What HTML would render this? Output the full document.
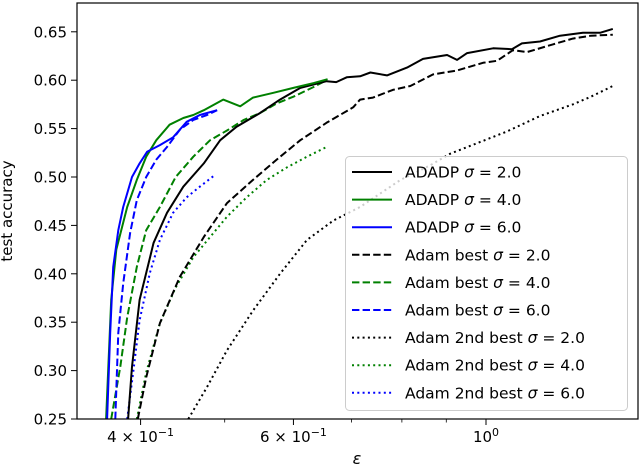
<!DOCTYPE html>
<html><head><meta charset="utf-8"><style>
html,body{margin:0;padding:0;background:#fff;}
svg{display:block;font-family:"DejaVu Sans","Liberation Sans",sans-serif;}
</style></head><body>
<svg id="chart" width="640" height="470" viewBox="0 0 640 470">
<defs><clipPath id="plotclip"><rect x="77" y="3" width="561" height="416"/></clipPath></defs>
<g id="grid"></g>
<g id="series" clip-path="url(#plotclip)"></g>
<rect x="77" y="3" width="561" height="416" fill="none" stroke="#000" stroke-width="1.2"/>
<g id="xaxis"></g><g id="yaxis"></g>
<text x="12" y="211" transform="rotate(-90 12 211)" text-anchor="middle" font-size="15">test accuracy</text>
<text x="357" y="464" text-anchor="middle" font-size="16" font-style="italic">ε</text>
<g id="legend"></g>
</svg>
<script>
const names = ["ADADP σ = 2.0","ADADP σ = 4.0","ADADP σ = 6.0","Adam best σ = 2.0","Adam best σ = 4.0","Adam best σ = 6.0","Adam 2nd best σ = 2.0","Adam 2nd best σ = 4.0","Adam 2nd best σ = 6.0"];
const labelPre = ["ADADP ","ADADP ","ADADP ","Adam best ","Adam best ","Adam best ","Adam 2nd best ","Adam 2nd best ","Adam 2nd best "];
const sigmas = ["2.0","4.0","6.0","2.0","4.0","6.0","2.0","4.0","6.0"];
const eps0 = [0.387,0.391,0.399,0.414,0.429,0.448,0.473,0.494,0.516,0.549,0.579,0.611,0.655,0.672,0.691,0.716,0.736,0.769,0.811,0.846,0.902,0.926,0.951,1.019,1.071,1.100,1.154,1.217,1.293,1.353,1.400];
const acc0 = [0.25,0.304,0.373,0.432,0.463,0.490,0.514,0.538,0.552,0.566,0.580,0.592,0.599,0.598,0.603,0.604,0.608,0.605,0.613,0.622,0.626,0.621,0.628,0.633,0.632,0.638,0.640,0.646,0.649,0.649,0.653];
const eps1 = [0.365,0.370,0.375,0.386,0.396,0.406,0.417,0.432,0.448,0.460,0.473,0.498,0.521,0.539,0.569,0.600,0.633,0.657];
const acc1 = [0.25,0.373,0.425,0.469,0.497,0.521,0.538,0.554,0.561,0.564,0.569,0.580,0.573,0.582,0.587,0.592,0.597,0.601];
const eps2 = [0.366,0.369,0.372,0.377,0.382,0.391,0.399,0.407,0.421,0.436,0.452,0.468,0.490];
const acc2 = [0.25,0.339,0.407,0.445,0.469,0.500,0.514,0.526,0.533,0.541,0.557,0.564,0.569];
const eps3 = [0.397,0.406,0.421,0.444,0.473,0.503,0.539,0.574,0.611,0.655,0.703,0.716,0.741,0.781,0.818,0.869,0.926,0.992,1.030,1.074,1.115,1.194,1.259,1.321,1.400];
const acc3 = [0.25,0.293,0.349,0.397,0.438,0.473,0.497,0.518,0.538,0.556,0.572,0.580,0.582,0.590,0.594,0.606,0.610,0.618,0.620,0.631,0.629,0.637,0.643,0.646,0.647];
const eps4 = [0.370,0.379,0.386,0.396,0.406,0.421,0.439,0.460,0.481,0.503,0.526,0.549,0.574,0.600,0.633,0.655];
const acc4 = [0.25,0.304,0.355,0.407,0.445,0.469,0.500,0.521,0.538,0.548,0.559,0.566,0.576,0.583,0.593,0.600];
const eps5 = [0.374,0.377,0.382,0.389,0.396,0.406,0.417,0.429,0.444,0.460,0.477,0.490];
const acc5 = [0.25,0.339,0.390,0.442,0.476,0.500,0.518,0.531,0.549,0.559,0.564,0.569];
const eps6 = [0.454,0.477,0.503,0.539,0.579,0.622,0.667,0.716,0.797,0.862,0.909,1.057,1.154,1.259,1.321,1.400];
const acc6 = [0.25,0.283,0.321,0.362,0.400,0.435,0.455,0.469,0.497,0.512,0.524,0.547,0.563,0.575,0.583,0.594];
const eps7 = [0.396,0.406,0.421,0.439,0.460,0.481,0.503,0.530,0.559,0.590,0.622,0.655];
const acc7 = [0.25,0.298,0.349,0.386,0.417,0.438,0.459,0.479,0.497,0.510,0.521,0.531];
const eps8 = [0.386,0.393,0.399,0.410,0.421,0.436,0.452,0.468,0.487];
const acc8 = [0.25,0.304,0.352,0.401,0.435,0.463,0.479,0.490,0.502];
const yTicks = [0.25,0.30,0.35,0.40,0.45,0.50,0.55,0.60,0.65];
const xMajor = [0.4,0.6,1.0];
const xMajorLabels = ["4 × 10","6 × 10","10"];
const xMajorExp = ["−1","−1","0"];
const xMinor = [0.5,0.7,0.8,0.9];

const X = v => 486 + 868*Math.log10(v);
const Y = v => 419 - (v-0.25)*968;
const NS = "http://www.w3.org/2000/svg";
function mk(tag, attrs, parent){const e=document.createElementNS(NS,tag);for(const k in attrs)e.setAttribute(k,attrs[k]);parent.appendChild(e);return e;}

const xa=document.getElementById('xaxis'), ya=document.getElementById('yaxis');
xMajor.forEach((v,i)=>{
  const t=mk('line',{x1:X(v),x2:X(v),y1:419,y2:425,stroke:'#000','stroke-width':1},xa);
  
  
  const tx=mk('text',{x:X(v),y:442,'text-anchor':'middle','font-size':15},xa);
  
  
  tx.textContent=xMajorLabels[i];
  const sp=document.createElementNS(NS,'tspan');sp.setAttribute('dy','-6');sp.setAttribute('font-size','11');sp.textContent=xMajorExp[i];tx.appendChild(sp);
});
xMinor.forEach(v=>{
  const t=mk('line',{x1:X(v),x2:X(v),y1:419,y2:422.5,stroke:'#000','stroke-width':0.8},xa);
  
  
});
yTicks.forEach(v=>{
  const t=mk('line',{x1:71,x2:77,y1:Y(v),y2:Y(v),stroke:'#000','stroke-width':1},ya);
  
  
  const tx=mk('text',{x:67,y:Y(v)+5.5,'text-anchor':'end','font-size':15},ya);
  
  
  tx.textContent=v.toFixed(2);
});

const allEps=[eps0,eps1,eps2,eps3,eps4,eps5,eps6,eps7,eps8];
const allAcc=[acc0,acc1,acc2,acc3,acc4,acc5,acc6,acc7,acc8];
const colors=['#000','#008000','#0000ff'];
const dashes=['none','7.4,3.2','2,3.3'];
const sg=document.getElementById('series');
const order=[6,7,8,3,4,5,0,1,2];
order.forEach(i=>{
  const d=allEps[i].map((e,j)=>(j?'L':'M')+X(e).toFixed(1)+','+Y(allAcc[i][j]).toFixed(1)).join('');
  const p=mk('path',{d:d,fill:'none',stroke:colors[i%3],'stroke-width':2,'stroke-dasharray':dashes[Math.floor(i/3)],'stroke-linejoin':'round'},sg);
  
  
});

const lg=document.getElementById('legend');
const box=mk('rect',{x:345.5,y:156.5,width:282,height:254,rx:4,fill:'#fff','fill-opacity':0.8,stroke:'#ccc','stroke-width':1},lg);


names.forEach((n,i)=>{
  const y=172+i*27.6;
  const g=mk('g',{},lg);
  
  
  mk('line',{x1:352,x2:392,y1:y,y2:y,stroke:colors[i%3],'stroke-width':2,'stroke-dasharray':dashes[Math.floor(i/3)]},g);
  const t=mk('text',{x:405,y:y+5.5,'font-size':15.5},g);
  t.textContent=labelPre[i];
  const s=document.createElementNS(NS,'tspan');s.setAttribute('font-style','italic');s.textContent='σ';t.appendChild(s);
  const s2=document.createElementNS(NS,'tspan');s2.textContent=' = '+sigmas[i];t.appendChild(s2);
});
</script>
</body></html>
